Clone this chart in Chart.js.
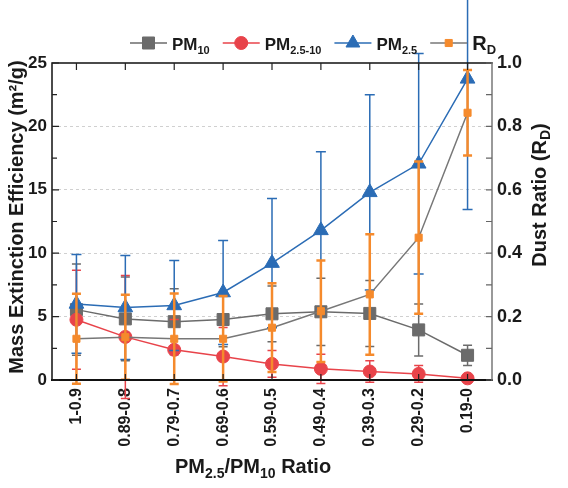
<!DOCTYPE html>
<html lang="en">
<head>
<meta charset="UTF-8">
<title>Mass Extinction Efficiency vs PM2.5/PM10</title>
<script src="https://cdn.jsdelivr.net/npm/chart.js@4.4.1/dist/chart.umd.min.js"></script>
<style>
    html, body { margin: 0; padding: 0; background: #fff; }
</style>
</head>
<body>

<canvas id="theChart" width="568" height="488"></canvas>

<script>
    // categories (PM2.5/PM10 ratio bins)
    var ratioLabels = ["1-0.9", "0.89-0.8", "0.79-0.7", "0.69-0.6", "0.59-0.5",
                       "0.49-0.4", "0.39-0.3", "0.29-0.2", "0.19-0"];
    // left axis series (m2/g) and their +/- errors
    var pm10      = [5.55, 4.82, 4.6, 4.77, 5.22, 5.38, 5.25, 3.95, 1.95];
    var pm10Err   = [3.6, 3.3, 2.6, 2.15, 2.2, 2.65, 2.6, 2.05, 0.8];
    var pm2510    = [4.75, 3.4, 2.38, 1.85, 1.27, 0.88, 0.67, 0.48, 0.13];
    var pm2510Err = [3.9, 4.85, 2.4, 2.3, 1.05, 1.15, 0.84, 0.66, 0.1];
    var pm25      = [6.0, 5.72, 5.88, 6.9, 9.22, 11.8, 14.8, 17.05, 23.75];
    var pm25Err   = [3.9, 4.1, 3.55, 4.1, 5.1, 6.2, 7.7, 8.7, 10.3];
    // right axis: dust ratio
    var dustRatio    = [0.13, 0.135, 0.13, 0.13, 0.165, 0.217, 0.27, 0.449, 0.843];
    var dustRatioErr = [0.142, 0.134, 0.143, 0.135, 0.14, 0.16, 0.19, 0.24, 0.135];
    // tick values
    var leftTicks  = [0, 5, 10, 15, 20, 25];
    var rightTicks = [0, 0.2, 0.4, 0.6, 0.8, 1.0];

    var FONT = '"Liberation Sans", Arial, sans-serif';
    var GRAY = "#6b6b6b", RED = "#e8434a", BLUE = "#2b6cb5", ORANGE = "#f58a2c";

    // draws text with sub/superscript pieces, returns end x
    function drawRich(ctx, parts, x, y) {
        parts.forEach(function(p){
            ctx.font = "bold " + p.size + "px " + FONT;
            ctx.fillText(p.text, x, y + (p.dy || 0));
            x += ctx.measureText(p.text).width;
        });
        return x;
    }
    function richWidth(ctx, parts) {
        var w = 0;
        parts.forEach(function(p){
            ctx.font = "bold " + p.size + "px " + FONT;
            w += ctx.measureText(p.text).width;
        });
        return w;
    }

    // error bars, drawn under each dataset's own line and markers
    var errorBarPlugin = {
        id: "errorBars",
        beforeDatasetDraw: function(chart, args) {
            var ds = chart.data.datasets[args.index];
            if (!ds.errors) return;
            var yScale = chart.scales[ds.yAxisID];
            var ctx = chart.ctx;
            ctx.save();
            ctx.strokeStyle = ds.errColor;
            ctx.lineWidth = ds.errWidth;
            args.meta.data.forEach(function(pt, i){
                var yTop = yScale.getPixelForValue(ds.data[i] + ds.errors[i]);
                var yBot = yScale.getPixelForValue(ds.data[i] - ds.errors[i]);
                var c = ds.errCap;
                ctx.beginPath();
                ctx.moveTo(pt.x, yTop); ctx.lineTo(pt.x, yBot);
                ctx.moveTo(pt.x - c, yTop); ctx.lineTo(pt.x + c, yTop);
                ctx.moveTo(pt.x - c, yBot); ctx.lineTo(pt.x + c, yBot);
                ctx.stroke();
            });
            ctx.restore();
        }
    };

    // frame, inward ticks, legend and axis titles
    var decorPlugin = {
        id: "decor",
        afterDraw: function(chart) {
            var ctx = chart.ctx, a = chart.chartArea;
            var xs = chart.scales.x, yl = chart.scales.y, yr = chart.scales.y1;
            ctx.save();
            // frame
            ctx.lineCap = "square";
            ctx.strokeStyle = "#111";
            ctx.lineWidth = 1.5;
            ctx.beginPath();
            ctx.moveTo(a.left, a.bottom); ctx.lineTo(a.left, a.top); ctx.lineTo(a.right, a.top);
            ctx.stroke();
            ctx.lineWidth = 2;
            ctx.beginPath();
            ctx.moveTo(a.left, a.bottom); ctx.lineTo(a.right, a.bottom);
            ctx.stroke();
            ctx.strokeStyle = "#777";
            ctx.lineWidth = 1.5;
            ctx.beginPath();
            ctx.moveTo(a.right, a.bottom); ctx.lineTo(a.right, a.top);
            ctx.stroke();
            ctx.lineCap = "butt";
            // ticks
            ctx.lineWidth = 1.2;
            ctx.strokeStyle = "#222";
            ctx.beginPath();
            for (var v = 0; v <= 25; v += 2.5) {
                var py = yl.getPixelForValue(v);
                var len = (v % 5 === 0) ? 7 : 5;
                ctx.moveTo(a.left, py); ctx.lineTo(a.left + len, py);
            }
            ratioLabels.forEach(function(l, i){
                var px = xs.getPixelForValue(i);
                ctx.moveTo(px, a.top); ctx.lineTo(px, a.top + 7);
                ctx.moveTo(px, a.bottom); ctx.lineTo(px, a.bottom - 6);
            });
            ctx.stroke();
            ctx.strokeStyle = "#666";
            ctx.beginPath();
            for (var k = 0; k <= 10; k++) {
                var pr = yr.getPixelForValue(k / 10);
                ctx.moveTo(a.right, pr); ctx.lineTo(a.right - 6, pr);
            }
            ctx.stroke();

            // legend
            ctx.fillStyle = "#1a1a1a";
            ctx.textBaseline = "alphabetic";
            ctx.textAlign = "left";
            var items = [
                { line: GRAY, mark: GRAY, style: "rect", r: 8.5, text: [{text: "PM", size: 17}, {text: "10", size: 11, dy: 4}] },
                { line: RED, mark: RED, style: "circle", r: 6.5, text: [{text: "PM", size: 17}, {text: "2.5-10", size: 11, dy: 4}] },
                { line: BLUE, mark: BLUE, style: "triangle", r: 8, text: [{text: "PM", size: 17}, {text: "2.5", size: 11, dy: 4}] },
                { line: "#777", mark: ORANGE, style: "rect", r: 5, text: [{text: "R", size: 20}, {text: "D", size: 13, dy: 4}] }
            ];
            var lx = 130, ly = 43;
            items.forEach(function(it){
                ctx.strokeStyle = it.line;
                ctx.lineWidth = 1.5;
                ctx.beginPath();
                ctx.moveTo(lx, ly); ctx.lineTo(lx + 37, ly);
                ctx.stroke();
                ctx.fillStyle = it.mark;
                ctx.strokeStyle = it.mark;
                ctx.lineWidth = 1;
                Chart.helpers.drawPoint(ctx, { pointStyle: it.style, radius: it.r, rotation: 0, borderWidth: 1 }, lx + 18.5, ly);
                ctx.fillStyle = "#1a1a1a";
                var end = drawRich(ctx, it.text, lx + 42, ly + 7);
                lx = end + 13;
            });

            // x title
            ctx.fillStyle = "#1a1a1a";
            var xTitle = [{text: "PM", size: 20}, {text: "2.5", size: 14, dy: 5}, {text: "/PM", size: 20},
                          {text: "10", size: 14, dy: 5}, {text: " Ratio", size: 20}];
            drawRich(ctx, xTitle, 175, 473);

            // left title
            var lTitle = [{text: "Mass Extinction Efficiency (m\u00B2/g)", size: 20}];
            ctx.save();
            ctx.translate(23, 217);
            ctx.rotate(-Math.PI / 2);
            drawRich(ctx, lTitle, -richWidth(ctx, lTitle) / 2, 0);
            ctx.restore();

            // right title
            var rTitle = [{text: "Dust Ratio (R", size: 20}, {text: "D", size: 14, dy: 4}, {text: ")", size: 20}];
            ctx.save();
            ctx.translate(546, 195);
            ctx.rotate(-Math.PI / 2);
            drawRich(ctx, rTitle, -richWidth(ctx, rTitle) / 2, 0);
            ctx.restore();

            ctx.restore();
        }
    };

    function seriesSet(label, data, errs, color, style, radius, lineColor, errWidth, errCap, axis, order) {
        return {
            label: label,
            data: data,
            errors: errs,
            errColor: color,
            errWidth: errWidth,
            errCap: errCap,
            yAxisID: axis,
            order: order,
            borderColor: lineColor,
            borderWidth: 1.5,
            backgroundColor: color,
            pointStyle: style,
            pointRadius: radius,
            pointBackgroundColor: color,
            pointBorderColor: color,
            pointBorderWidth: 1,
            fill: false,
            tension: 0,
            clip: false
        };
    }

    var tickFont = { family: FONT, size: 17, weight: "bold" };

    var theChart = new Chart("theChart", {
        type: "line",
        data: {
            labels: ratioLabels,
            datasets: [
                seriesSet("PM10", pm10, pm10Err, GRAY, "rect", 8.5, GRAY, 1.5, 4.5, "y", 3),
                seriesSet("PM2.5-10", pm2510, pm2510Err, RED, "circle", 6.5, RED, 1.5, 4.5, "y", 2),
                seriesSet("PM2.5", pm25, pm25Err, BLUE, "triangle", 8.5, BLUE, 1.5, 5, "y", 1),
                seriesSet("RD", dustRatio, dustRatioErr, ORANGE, "rect", 5, "#777", 2.5, 4.5, "y1", 0)
            ]
        },
        options: {
            responsive: false,
            animation: false,
            devicePixelRatio: 1,
            layout: { padding: { top: 63, left: 0, right: 0, bottom: 0 } },
            plugins: {
                legend: { display: false },
                tooltip: { enabled: false }
            },
            scales: {
                x: {
                    type: "category",
                    offset: true,
                    grid: { display: false, drawTicks: false },
                    border: { display: false },
                    ticks: {
                        autoSkip: false, minRotation: 90, maxRotation: 90, padding: 8,
                        color: "#1a1a1a", font: { family: FONT, size: 16, weight: "bold" }
                    },
                    afterFit: function(s){ s.height = 108; }
                },
                y: {
                    position: "left",
                    min: 0, max: 25,
                    afterBuildTicks: function(s){ s.ticks = leftTicks.map(function(v){ return { value: v }; }); },
                    ticks: { padding: 5, color: "#1a1a1a", font: tickFont },
                    grid: {
                        drawTicks: false,
                        lineWidth: 1,
                        color: function(c){ return (c.tick && c.tick.value > 0 && c.tick.value < 25) ? "#d0d0d0" : "rgba(0,0,0,0)"; }
                    },
                    border: { display: false, dash: [3, 3] },
                    afterFit: function(s){ s.width = 52; }
                },
                y1: {
                    position: "right",
                    min: 0, max: 1,
                    afterBuildTicks: function(s){ s.ticks = rightTicks.map(function(v){ return { value: v }; }); },
                    ticks: {
                        padding: 5, color: "#1a1a1a", font: { family: FONT, size: 18, weight: "bold" },
                        callback: function(v){ return Number(v).toFixed(1); }
                    },
                    grid: { drawOnChartArea: false, drawTicks: false },
                    border: { display: false },
                    afterFit: function(s){ s.width = 76; }
                }
            }
        },
        plugins: [errorBarPlugin, decorPlugin]
    });
</script>

</body>
</html>
